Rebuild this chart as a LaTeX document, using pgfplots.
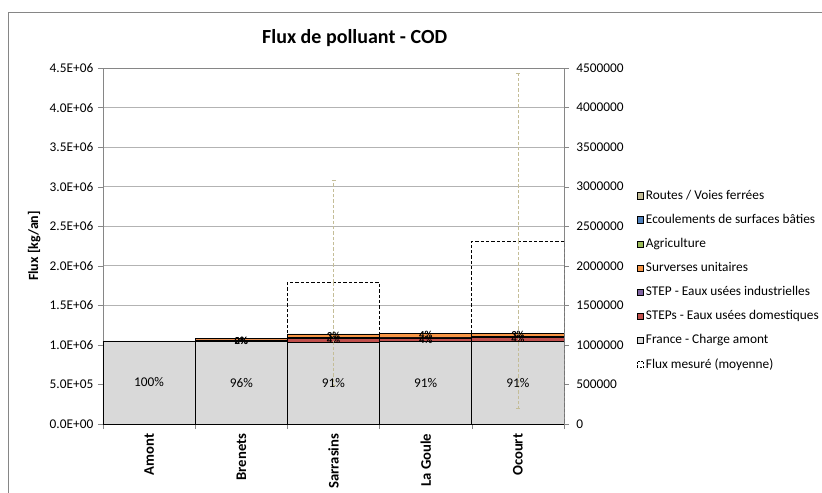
\documentclass[border=0pt]{standalone}
\usepackage{pgfplots}
\pgfplotsset{compat=1.18}
\usepackage{fontspec}
\setmainfont{Carlito}

\definecolor{gris}{HTML}{D9D9D9}
\definecolor{rouge}{HTML}{C0504D}
\definecolor{violet}{HTML}{8064A2}
\definecolor{orangex}{HTML}{F79646}
\definecolor{vert}{HTML}{9BBB59}
\definecolor{bleu}{HTML}{4F81BD}
\definecolor{kaki}{HTML}{C4BD97}
\definecolor{grille}{HTML}{B3B3B3}
\definecolor{cadre}{HTML}{868686}

\pgfplotsset{
  carre/.style={legend image code/.code={\draw[##1,draw=black,line width=0.4pt] (0pt,-2.3pt) rectangle (4.6pt,2.3pt);}},
  seg/.style={draw=black, line width=0.5pt, fill=#1, carre},
}

\begin{document}
\begin{tikzpicture}
\useasboundingbox (0,0) rectangle (616.5pt,-369.75pt);
\draw[cadre, line width=0.6pt] (6pt,-380pt) -- (6pt,-9pt) -- (620pt,-9pt);
\node[font=\bfseries\fontsize{15}{17}\selectfont] at (266pt,-28.5pt) {Flux de polluant - COD};

% axe principal : flux calcules (empiles)
\begin{axis}[
  at={(77.25pt,-318pt)}, anchor=south west,
  scale only axis, width=345.75pt, height=267pt,
  ybar stacked, bar width=1,
  xmin=-0.5, xmax=4.5, ymin=0, ymax=4500000,
  axis line style={cadre},
  xtick={0,1,2,3,4},
  xticklabels={Amont,Brenets,Sarrasins,La Goule,Ocourt},
  xtick pos=bottom, ytick pos=left,
  major x tick style={draw=none},
  minor xtick={-0.5,0.5,1.5,2.5,3.5,4.5},
  minor x tick style={cadre},
  tick align=outside, major tick length=3.75pt, minor tick length=3.75pt,
  tick style={cadre},
  x tick label style={rotate=90, anchor=east, font=\bfseries\fontsize{11}{13}\selectfont},
  ytick={0,500000,1000000,1500000,2000000,2500000,3000000,3500000,4000000,4500000},
  yticklabels={0.0E+00,5.0E+05,1.0E+06,1.5E+06,2.0E+06,2.5E+06,3.0E+06,3.5E+06,4.0E+06,4.5E+06},
  scaled y ticks=false,
  y tick label style={font=\fontsize{10}{12}\selectfont},
  ymajorgrids, major grid style={grille, line width=0.75pt},
  ylabel={Flux [kg/an]}, ylabel style={font=\bfseries\fontsize{10.5}{12}\selectfont},
  reverse legend,
  legend style={at={(1.1485,0.669)}, anchor=north west, draw=none, fill=none,
    font=\fontsize{10}{12}\selectfont, row sep=7.6pt, nodes={inner xsep=1.8pt, inner ysep=1pt}},
  legend cell align=left,
]
\addlegendimage{legend image code/.code={\draw[black, dash pattern=on 1.5pt off 1pt, line width=0.5pt] (0pt,-2.3pt) rectangle (4.6pt,2.3pt);}}
\addlegendentry{Flux mesuré (moyenne)}
\addplot[seg=gris] coordinates {(0,1050000) (1,1040000) (2,1036000) (3,1043000) (4,1047000)};
\addlegendentry{France - Charge amont}
\addplot[seg=rouge] coordinates {(0,0) (1,20000) (2,46000) (3,46000) (4,48000)};
\addlegendentry{STEPs - Eaux usées domestiques}
\addplot[seg=violet] coordinates {(0,0) (1,2000) (2,8000) (3,8000) (4,8000)};
\addlegendentry{STEP - Eaux usées industrielles}
\addplot[seg=orangex] coordinates {(0,0) (1,20000) (2,40000) (3,45000) (4,43000)};
\addlegendentry{Surverses unitaires}
\addplot[seg=vert] coordinates {(0,0) (1,0) (2,4000) (3,2000) (4,2000)};
\addlegendentry{Agriculture}
\addplot[seg=bleu] coordinates {(0,0) (1,0) (2,2000) (3,2000) (4,2000)};
\addlegendentry{Ecoulements de surfaces bâties}
\addplot[seg=kaki] coordinates {(0,0) (1,1000) (2,2000) (3,0) (4,0)};
\addlegendentry{Routes  / Voies ferrées}
\end{axis}

% axe secondaire : flux mesures + etiquettes
\begin{axis}[
  at={(77.25pt,-318pt)}, anchor=south west,
  scale only axis, width=345.75pt, height=267pt,
  xmin=-0.5, xmax=4.5, ymin=0, ymax=4500000,
  axis x line=none, axis y line*=right,
  axis line style={cadre}, y axis line style={-},
  tick align=outside, major tick length=3.75pt, tick style={cadre},
  ytick={0,500000,1000000,1500000,2000000,2500000,3000000,3500000,4000000,4500000},
  yticklabels={0,500000,1000000,1500000,2000000,2500000,3000000,3500000,4000000,4500000},
  scaled y ticks=false,
  y tick label style={font=\fontsize{10}{12}\selectfont, xshift=2pt},
]
\addplot[black, dash pattern=on 2.5pt off 1.5pt, line width=0.6pt] coordinates {(1.5,0) (1.5,1786000) (2.5,1786000) (2.5,0)};
\addplot[black, dash pattern=on 2.5pt off 1.5pt, line width=0.6pt] coordinates {(3.5,0) (3.5,2313000) (4.5,2313000) (4.5,0)};
\addplot[draw=none, mark=none,
  error bars/.cd, y dir=both, y explicit,
  error bar style={kaki, line width=0.6pt, dash pattern=on 2.5pt off 1.5pt},
  error mark options={kaki, rotate=90, mark size=1.5pt, solid}]
  coordinates {(2,1786000) +- (0,1300000) (4,2313000) +- (0,2120000)};

\node[font=\fontsize{10}{12}\selectfont] at (axis cs:0,525000) {100\%};
\node[font=\fontsize{10}{12}\selectfont] at (axis cs:1,520000) {96\%};
\node[font=\fontsize{10}{12}\selectfont] at (axis cs:2,520000) {91\%};
\node[font=\fontsize{10}{12}\selectfont] at (axis cs:3,520000) {91\%};
\node[font=\fontsize{10}{12}\selectfont] at (axis cs:4,520000) {91\%};
\node[font=\bfseries\fontsize{8}{9}\selectfont] at (axis cs:1,1050000) {0\%};
\node[font=\bfseries\fontsize{8}{9}\selectfont] at (axis cs:1,1056000) {2\%};
\node[font=\bfseries\fontsize{8}{9}\selectfont] at (axis cs:2,1120000) {3\%};
\node[font=\bfseries\fontsize{8}{9}\selectfont] at (axis cs:2,1064000) {4\%};
\node[font=\bfseries\fontsize{8}{9}\selectfont] at (axis cs:3,1122000) {4\%};
\node[font=\bfseries\fontsize{8}{9}\selectfont] at (axis cs:3,1068000) {4\%};
\node[font=\bfseries\fontsize{8}{9}\selectfont] at (axis cs:4,1124000) {3\%};
\node[font=\bfseries\fontsize{8}{9}\selectfont] at (axis cs:4,1070000) {4\%};
\end{axis}
\end{tikzpicture}
\end{document}
